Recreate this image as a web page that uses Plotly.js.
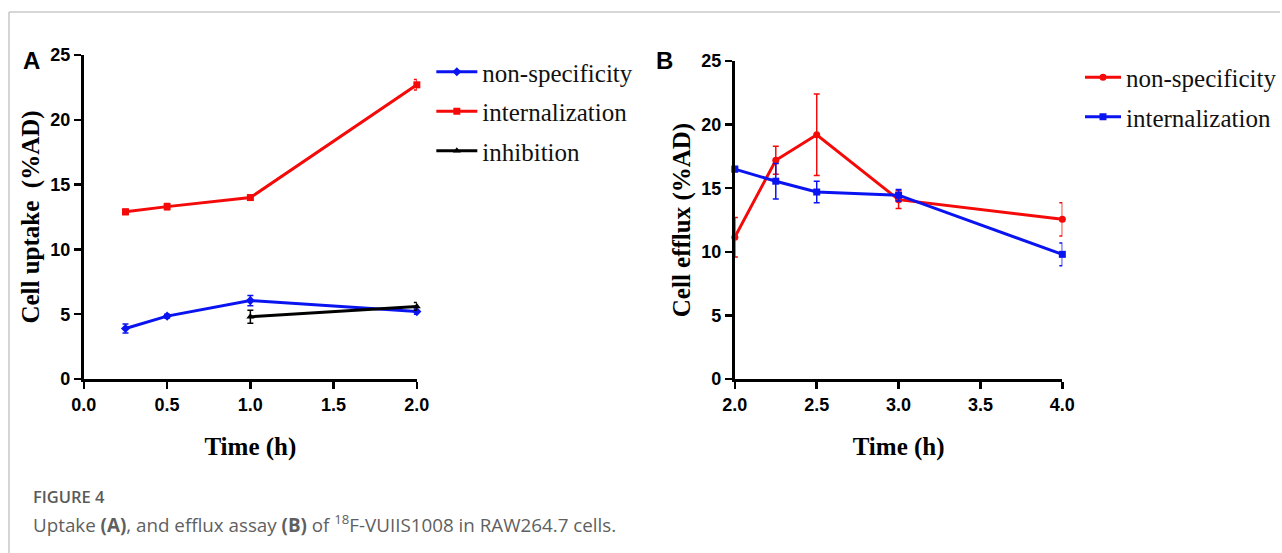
<!DOCTYPE html>
<html>
<head>
<meta charset="utf-8">
<script src="https://cdn.plot.ly/plotly-3.0.1.min.js"></script>
<style>html,body{margin:0;padding:0;background:#fff;}#chart{width:1282px;height:553px;}</style>
</head>
<body>
<div id="chart"></div>
<script>
// Panel A: cell uptake
const timeA = [0.25, 0.5, 1, 2];
const nonSpecA = [3.9, 4.85, 6.05, 5.2];
const nonSpecAErr = [0.35, 0.15, 0.4, 0.2];
const internalA = [12.9, 13.3, 14.0, 22.7];
const internalAErr = [0.2, 0.25, 0.15, 0.4];
const inhibTimeA = [1, 2];
const inhibA = [4.8, 5.6];
const inhibAErr = [0.5, 0.3];

// Panel B: cell efflux
const timeB = [2, 2.25, 2.5, 3, 4];
const nonSpecB = [11.15, 17.2, 19.2, 14.1, 12.55];
const nonSpecBErr = [1.55, 1.1, 3.2, 0.7, 1.3];
const internalB = [16.5, 15.55, 14.7, 14.45, 9.8];
const internalBErr = [0.2, 1.4, 0.85, 0.45, 0.9];

const yTicks = [0, 5, 10, 15, 20, 25];
const xTicksA = [0, 0.5, 1, 1.5, 2];
const xTicksB = [2, 2.5, 3, 3.5, 4];

const BLUE = '#0a14f0', RED = '#f50a0a', BLACK = '#000000';

function tr(x, y, err, name, color, symbol, xa, ya, legend, group) {
  return {
    type: 'scatter', mode: 'lines+markers', x: x, y: y, name: name,
    xaxis: xa, yaxis: ya, legend: legend, legendgroup: group,
    line: {color: color, width: 3},
    marker: {color: color, symbol: symbol, size: 7},
    error_y: {type: 'data', array: err, visible: true, color: color, thickness: 1.5, width: 3},
    cliponaxis: false
  };
}

const data = [
  tr(timeA, nonSpecA, nonSpecAErr, 'non-specificity', BLUE, 'diamond', 'x', 'y', 'legend', 'a1'),
  tr(timeA, internalA, internalAErr, 'internalization', RED, 'square', 'x', 'y', 'legend', 'a2'),
  tr(inhibTimeA, inhibA, inhibAErr, 'inhibition', BLACK, 'triangle-up', 'x', 'y', 'legend', 'a3'),
  tr(timeB, nonSpecB, nonSpecBErr, 'non-specificity', RED, 'circle', 'x2', 'y2', 'legend2', 'b1'),
  tr(timeB, internalB, internalBErr, 'internalization', BLUE, 'square', 'x2', 'y2', 'legend2', 'b2')
];

const tickFont = {family: "'Liberation Sans Narrow', 'Liberation Sans', Arial, sans-serif", size: 18, color: '#000', weight: 'bold'};
const titleFont = {family: "'Liberation Serif', 'Times New Roman', serif", size: 25, color: '#000', weight: 'bold'};
const legFont = {family: "'Liberation Serif', 'Times New Roman', serif", size: 25, color: '#111'};

function xax(domain, range, ticks, anchor) {
  return {domain: domain, range: range, tickvals: ticks, tickformat: '.1f', anchor: anchor,
    showline: true, linecolor: '#000', linewidth: 3, ticks: 'outside', ticklen: 7, tickwidth: 2.5, tickcolor: '#000',
    showgrid: false, zeroline: false, tickfont: tickFont,
    title: {text: 'Time (h)', font: titleFont, standoff: 24}, fixedrange: true};
}
function yax(domain, title, anchor) {
  return {domain: domain, range: [0, 25], tickvals: yTicks, anchor: anchor,
    showline: true, linecolor: '#000', linewidth: 3, ticks: 'outside', ticklen: 7, tickwidth: 2.5, tickcolor: '#000',
    showgrid: false, zeroline: false, tickfont: tickFont,
    title: {text: title, font: titleFont, standoff: 4}, fixedrange: true};
}

const W = 1282, H = 553;
const layout = {
  width: W, height: H,
  margin: {l: 0, r: 0, t: 0, b: 0},
  paper_bgcolor: '#fff', plot_bgcolor: 'rgba(0,0,0,0)',
  showlegend: true,
  xaxis: xax([84 / W, 417.5 / W], [0, 2], xTicksA, 'y'),
  yaxis: yax([1 - 379 / H, 1 - 55 / H], 'Cell uptake  (%AD)', 'x'),
  xaxis2: xax([736 / W, 1064 / W], [2, 4], xTicksB, 'y2'),
  yaxis2: yax([1 - 379 / H, 1 - 61 / H], 'Cell efflux (%AD)', 'x2'),
  legend: {x: 432 / W, y: 1 - 49 / H, xanchor: 'left', yanchor: 'top', font: legFont,
    bgcolor: 'rgba(0,0,0,0)', tracegroupgap: 4, itemwidth: 41},
  legend2: {x: 1082 / W, y: 1 - 54.5 / H, xanchor: 'left', yanchor: 'top', font: legFont,
    bgcolor: 'rgba(0,0,0,0)', tracegroupgap: 4, itemwidth: 36},
  shapes: [
    {type: 'line', xref: 'paper', yref: 'paper', x0: 9 / W, x1: 1, y0: 1 - 12 / H, y1: 1 - 12 / H, line: {color: '#c8c8c8', width: 1.5}},
    {type: 'line', xref: 'paper', yref: 'paper', x0: 9 / W, x1: 9 / W, y0: 0, y1: 1 - 12 / H, line: {color: '#c8c8c8', width: 1.5}}
  ],
  annotations: [
    {text: 'A', xref: 'paper', yref: 'paper', x: 32 / W, y: 1 - 60 / H, xanchor: 'center', yanchor: 'middle', showarrow: false,
      font: {family: "'Liberation Sans', Arial, sans-serif", size: 24, color: '#000', weight: 'bold'}},
    {text: 'B', xref: 'paper', yref: 'paper', x: 666 / W, y: 1 - 60 / H, xanchor: 'center', yanchor: 'middle', showarrow: false,
      font: {family: "'Liberation Sans', Arial, sans-serif", size: 24, color: '#000', weight: 'bold'}},
    {text: 'FIGURE 4', xref: 'paper', yref: 'paper', x: 31 / W, y: 1 - 496 / H, xanchor: 'left', yanchor: 'middle', showarrow: false,
      font: {family: "'Open Sans', 'Noto Sans', sans-serif", size: 16.5, color: '#5a5a5a', weight: 600}},
    {text: 'Uptake <b>(A)</b>, and efflux assay <b>(B)</b> of <sup>18</sup>F-VUIIS1008 in RAW264.7 cells.', xref: 'paper', yref: 'paper',
      x: 31 / W, y: 1 - 524 / H, xanchor: 'left', yanchor: 'middle', showarrow: false,
      font: {family: "'Open Sans', 'Noto Sans', sans-serif", size: 18.8, color: '#5f5f5f'}}
  ]
};

Plotly.newPlot('chart', data, layout, {staticPlot: true, displayModeBar: false});
</script>
</body>
</html>
